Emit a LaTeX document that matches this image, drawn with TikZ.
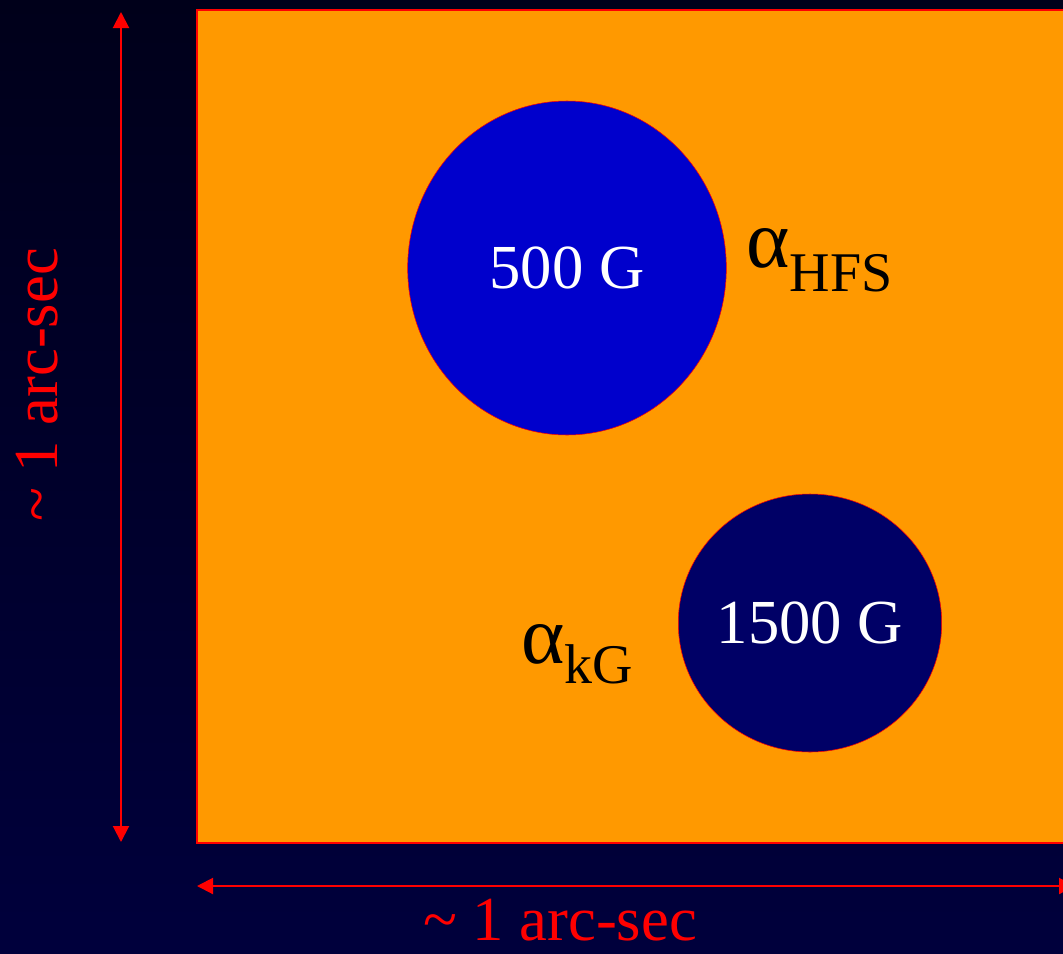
\documentclass[tikz,border=0pt]{standalone}
\usepackage{fontspec}
\setmainfont{Liberation Serif}
\usetikzlibrary{shapes.geometric, arrows.meta}
\definecolor{nighttop}{HTML}{00001A}
\definecolor{nightbot}{HTML}{00003C}
\definecolor{plage}{HTML}{FF9900}
\definecolor{weakspot}{HTML}{0000CC}
\definecolor{strongspot}{HTML}{000066}

\begin{document}
\begin{tikzpicture}[x=0.75pt, y=-0.75pt,
    spot/.style={ellipse, draw=red, thin, text=white, inner sep=0pt, font=\fontsize{47}{47}\selectfont},
    scalebar/.style={red, line width=1.5pt, {Triangle[length=12pt, width=12pt]}-{Triangle[length=12pt, width=12pt]}},
    scalelabel/.style={text=red, inner sep=0pt, anchor=base, font=\fontsize{47}{47}\selectfont},
    alphalabel/.style={text=black, inner sep=0pt, anchor=base west, font=\fontsize{62}{62}\selectfont}]
        % sky and field of view
        \useasboundingbox (0,0) rectangle (1063,953);
        \clip (0,0) rectangle (1063,953);
        \shade[top color=nighttop, bottom color=nightbot] (0,0) rectangle (1063,953);
        \draw[red, line width=1.5pt, fill=plage] (197,10) rectangle (1080,843);

        % magnetic spots
        \node[spot, fill=weakspot, minimum width=239pt, minimum height=250.5pt] (weak) at (567,268) {500 G};
        \node[spot, fill=strongspot, minimum width=193.5pt, minimum height=193.5pt] (strong) at (810,623) {1500 G};

        \node[alphalabel] (ahfs) at (746,267) {α\raisebox{-18pt}{\fontsize{42}{42}\selectfont HFS}};
        \node[alphalabel] (akg) at (521,663) {α\raisebox{-15pt}{\fontsize{42}{42}\selectfont kG}};

        % scale bars
        \coordinate (vtop) at (121,12);
        \coordinate (vbot) at (121,842);
        \coordinate (hleft) at (197,886);
        \coordinate (hright) at (1075,886);
        \draw[scalebar] (vtop) -- (vbot);
        \draw[scalebar] (hleft) -- (hright);

        \node[scalelabel, rotate=90] (vlabel) at (57,385) {\textasciitilde{} 1 arc-sec};
        \node[scalelabel] (hlabel) at (560,940) {\textasciitilde{} 1 arc-sec};
    \end{tikzpicture}
\end{document}
